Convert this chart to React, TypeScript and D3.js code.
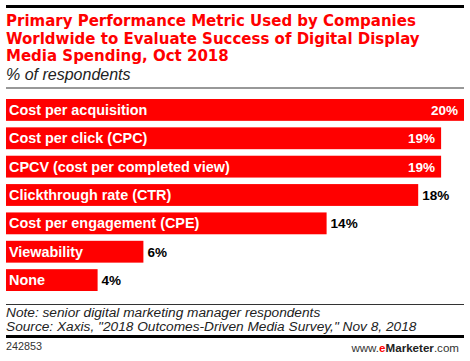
import React from "react";
import * as d3 from "d3";

const categories = [
  "Cost per acquisition",
  "Cost per click (CPC)",
  "CPCV (cost per completed view)",
  "Clickthrough rate (CTR)",
  "Cost per engagement (CPE)",
  "Viewability",
  "None",
];
const values = [20, 19, 19, 18, 14, 6, 4];
const titleLines = [
  "Primary Performance Metric Used by Companies",
  "Worldwide to Evaluate Success of Digital Display",
  "Media Spending, Oct 2018",
];
const subtitle = "% of respondents";
const noteLines = [
  "Note: senior digital marketing manager respondents",
  'Source: Xaxis, "2018 Outcomes-Driven Media Survey," Nov 8, 2018',
];
const chartId = "242853";

const W = 470;
const H = 361;
const RED = "#ff0000";
const FONT = "'Liberation Sans', Arial, sans-serif";
const WIDE = "'DejaVu Sans', Verdana, sans-serif";

export default function App() {
  const x = d3.scaleLinear().domain([0, 20]).range([6, 464]);
  const y = d3
    .scaleBand<string>()
    .domain(categories)
    .range([99, 291])
    .paddingInner(0.23)
    .paddingOuter(0);
  const bh = y.bandwidth();

  return (
    <svg
      width={W}
      height={H}
      style={{ position: "absolute", left: 0, top: 0, background: "#fff" }}
      fontFamily={FONT}
    >
      <rect x={6} y={5} width={458} height={3} fill="#000" />
      {titleLines.map((t, i) => (
        <text key={i} x={6} y={26 + i * 17.7} fill={RED} fontSize={15} fontWeight="bold" fontFamily={WIDE}>
          {t}
        </text>
      ))}
      <text x={6} y={80} fontSize={16} fontStyle="italic" fill="#222">
        {subtitle}
      </text>
      <rect x={6} y={87.5} width={458} height={1} fill="#333" />

      {categories.map((c, i) => {
        const v = values[i];
        const yy = y(c)!;
        const x1 = x(v);
        const inside = v >= 19;
        return (
          <g key={c}>
            <rect x={x(0)} y={yy} width={x1 - x(0)} height={bh} fill={RED} />
            <text
              x={9}
              y={yy + bh / 2 + 5}
              fill="#fff"
              fontSize={14.4}
              fontWeight="bold"
            >
              {c}
            </text>
            <text
              x={inside ? x1 - 6 : x1 + 4}
              y={yy + bh / 2 + 5}
              fill={inside ? "#fff" : "#000"}
              fontSize={13.5}
              fontWeight="bold"
              textAnchor={inside ? "end" : "start"}
            >
              {v}%
            </text>
          </g>
        );
      })}

      <rect x={6} y={304} width={458} height={1} fill="#333" />
      {noteLines.map((t, i) => (
        <text key={i} x={6} y={317 + i * 13.5} fontSize={13.7} fontStyle="italic" fill="#222">
          {t}
        </text>
      ))}
      <rect x={6} y={335} width={458} height={3} fill="#000" />
      <text x={6} y={350} fontSize={10.8} fill="#333">
        {chartId}
      </text>
      <text x={459} y={352} fontSize={11.6} fill="#333" textAnchor="end">
        <tspan>www.</tspan>
        <tspan fill={RED} fontWeight="bold">e</tspan>
        <tspan fontWeight="bold" fill="#222">Marketer</tspan>
        <tspan>.com</tspan>
      </text>
    </svg>
  );
}
